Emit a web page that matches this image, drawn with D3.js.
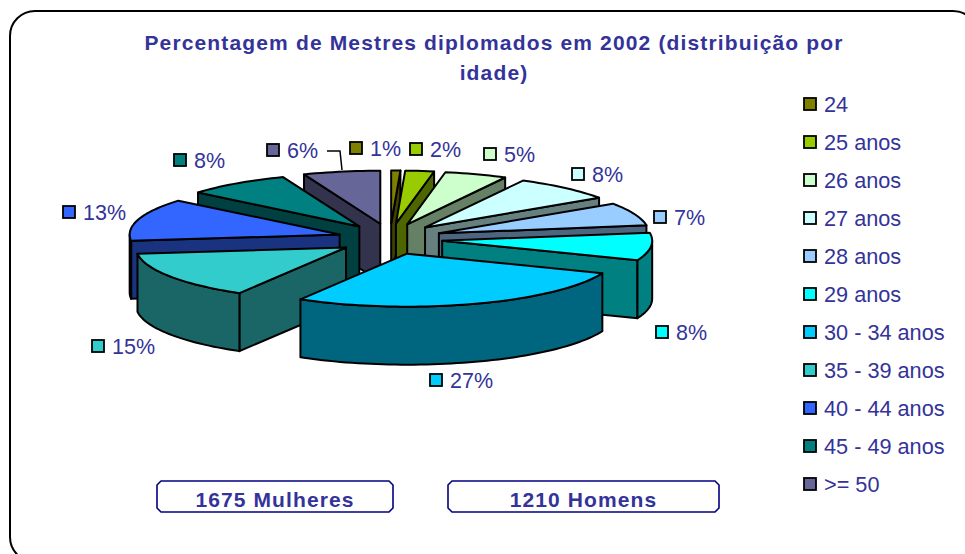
<!DOCTYPE html>
<html>
<head>
<meta charset="utf-8">
<script src="https://cdn.jsdelivr.net/npm/d3@7"></script>
<style>
  html, body { margin: 0; padding: 0; background: #fff; overflow: hidden; }
  text { font-family: "Liberation Sans", Arial, sans-serif; fill: #333399; }
</style>
</head>
<body>
<div id="chart"></div>
<script>
var titleLines = ['Percentagem de Mestres diplomados em 2002 (distribuição por', 'idade)'];
var categories = ['24', '25 anos', '26 anos', '27 anos', '28 anos', '29 anos', '30 - 34 anos', '35 - 39 anos', '40 - 44 anos', '45 - 49 anos', '>= 50'];
var values = [0.7, 2.2, 4.8, 7.8, 7.0, 8.4, 27.4, 14.6, 12.9, 8.0, 5.9];
var colors = ['#808000', '#99cc00', '#ccffcc', '#ccffff', '#99ccff', '#00ffff', '#00ccff', '#33cccc', '#3366ff', '#008080', '#666699'];
var boxLabels = ['1675 Mulheres', '1210 Homens'];

var width = 965, height = 554;
var cx = 390, cy = 239, rx = 210, ry = 53, depth = 58, explodeX = 52.5, explodeY = 15.5;

var svg = d3.select('#chart').append('svg')
    .attr('width', width)
    .attr('height', height);

// outer frame, runs off the right and bottom of the picture
svg.append('rect')
    .attr('x', 10).attr('y', 11)
    .attr('width', 968).attr('height', 551)
    .attr('rx', 25).attr('ry', 25)
    .attr('fill', 'none')
    .attr('stroke', '#000')
    .attr('stroke-width', 2);

svg.selectAll('.title')
    .data(titleLines)
    .enter().append('text')
    .attr('class', 'title')
    .attr('x', 494)
    .attr('y', (d, i) => 50 + i * 30)
    .attr('text-anchor', 'middle')
    .attr('font-size', 21)
    .attr('font-weight', 'bold')
    .attr('letter-spacing', 1.15)
    .text(d => d);

var pie = d3.pie().sort(null).value(d => d.value);
var slices = pie(values.map((v, i) => ({ value: v, name: categories[i], color: colors[i], i: i })));

function sideColor(c) {
    var r = d3.rgb(c);
    return d3.rgb(r.r / 2, r.g / 2, r.b / 2).formatHex();
}

// angle is clockwise from 12 o'clock
function geometry(s) {
    var mid = (s.startAngle + s.endAngle) / 2;
    var apex = [cx + explodeX * Math.sin(mid), cy - explodeY * Math.cos(mid)];
    var at = a => [apex[0] + rx * Math.sin(a), apex[1] - ry * Math.cos(a)];
    return { mid: mid, apex: apex, at: at };
}

function arcPoints(at, a0, a1) {
    var n = Math.max(2, Math.ceil((a1 - a0) / 0.03));
    return d3.range(n + 1).map(k => at(a0 + (a1 - a0) * k / n));
}

function down(p) { return [p[0], p[1] + depth]; }

var line = d3.line();
var strokeW = 2;

// back slices first, the 30 - 34 slice ends up on top
var ordered = slices.slice().sort((a, b) =>
    d3.descending(Math.cos((a.startAngle + a.endAngle) / 2), Math.cos((b.startAngle + b.endAngle) / 2)));

var groups = svg.selectAll('.slice')
    .data(ordered)
    .enter().append('g')
    .attr('class', 'slice');

groups.each(function (s) {
    var g = d3.select(this);
    var geo = geometry(s);
    var side = sideColor(s.data.color);

    function drawSide(pts) {
        g.append('path')
            .attr('d', line(pts) + 'Z')
            .attr('fill', side)
            .attr('stroke', '#000')
            .attr('stroke-width', strokeW)
            .attr('stroke-linejoin', 'round');
    }

    // radial walls, only when the slice body sits above the edge on screen
    [s.startAngle, s.endAngle].forEach(a => {
        var rim = geo.at(a);
        var inner = geo.at(geo.mid);
        var t = (inner[0] - geo.apex[0]) / ((rim[0] - geo.apex[0]) || 1e-6);
        var yOnEdge = geo.apex[1] + t * (rim[1] - geo.apex[1]);
        if (inner[1] < yOnEdge) {
            drawSide([geo.apex, rim, down(rim), down(geo.apex)]);
        }
    });

    // outer wall, front half of the ellipse
    var a0 = Math.max(s.startAngle, Math.PI / 2);
    var a1 = Math.min(s.endAngle, Math.PI * 3 / 2);
    if (a1 > a0) {
        var top = arcPoints(geo.at, a0, a1);
        drawSide(top.concat(top.slice().reverse().map(down)));
    }

    g.append('path')
        .attr('d', line([geo.apex].concat(arcPoints(geo.at, s.startAngle, s.endAngle))) + 'Z')
        .attr('fill', s.data.color)
        .attr('stroke', '#000')
        .attr('stroke-width', strokeW)
        .attr('stroke-linejoin', 'round');
});

// data label spots, same order as the categories
var labelSpots = [[356, 148], [416, 149], [490, 154], [578, 174], [660, 217], [662, 332], [436, 380], [98, 346], [69, 212], [180, 160], [273, 150]];

var labels = svg.selectAll('.dlabel')
    .data(slices)
    .enter().append('g')
    .attr('class', 'dlabel')
    .attr('transform', (d, i) => 'translate(' + labelSpots[i][0] + ',' + labelSpots[i][1] + ')');

labels.append('rect')
    .attr('x', -6).attr('y', -6)
    .attr('width', 12).attr('height', 12)
    .attr('fill', d => d.data.color)
    .attr('stroke', '#000')
    .attr('stroke-width', 1.8);

labels.append('text')
    .attr('x', 14)
    .attr('y', 8)
    .attr('font-size', 21.5)
    .text(d => Math.round(d.data.value) + '%');

// leader line of the 6% label
svg.append('path')
    .attr('d', line([[327, 151], [340, 151], [342, 170]]))
    .attr('fill', 'none')
    .attr('stroke', '#000')
    .attr('stroke-width', 1.5);

// legend
var legendY = d3.scalePoint()
    .domain(categories)
    .range([104, 484]);

var legend = svg.selectAll('.legend')
    .data(slices)
    .enter().append('g')
    .attr('class', 'legend')
    .attr('transform', d => 'translate(810,' + legendY(d.data.name) + ')');

legend.append('rect')
    .attr('x', -6).attr('y', -6)
    .attr('width', 12).attr('height', 12)
    .attr('fill', d => d.data.color)
    .attr('stroke', '#000')
    .attr('stroke-width', 1.8);

legend.append('text')
    .attr('x', 14)
    .attr('y', 8)
    .attr('font-size', 21.7)
    .text(d => d.data.name);

// the two count boxes under the pie
var boxX = d3.scalePoint().domain(boxLabels).range([157, 448]);
var boxW = [236, 271];
var boxes = svg.selectAll('.box')
    .data(boxLabels)
    .enter().append('g')
    .attr('class', 'box')
    .attr('transform', d => 'translate(' + boxX(d) + ',481)');

boxes.append('path')
    .attr('d', (d, i) => {
        var w = boxW[i], h = 31, c = 4;
        return line([[c, 0], [w - c, 0], [w, c], [w, h - c], [w - c, h], [c, h], [0, h - c], [0, c]]) + 'Z';
    })
    .attr('fill', '#fff')
    .attr('stroke', '#000080')
    .attr('stroke-width', 1.6);

boxes.append('text')
    .attr('x', (d, i) => boxW[i] / 2)
    .attr('y', 26)
    .attr('text-anchor', 'middle')
    .attr('font-size', 21)
    .attr('font-weight', 'bold')
    .attr('letter-spacing', 1.1)
    .text(d => d);
</script>
</body>
</html>
